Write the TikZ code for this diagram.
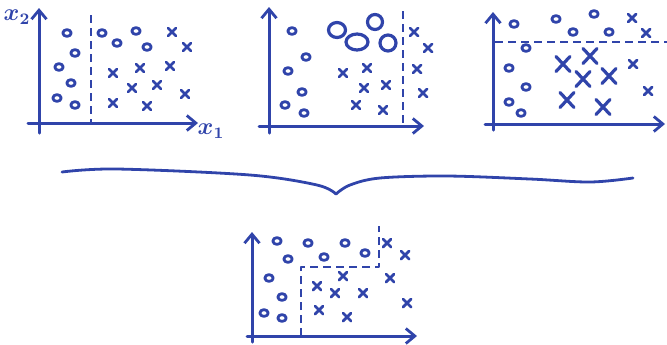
\documentclass[tikz,border=0pt]{standalone}
\usepackage{amsmath}
\usetikzlibrary{arrows.meta}
\definecolor{inkblue}{RGB}{48,68,170}
\begin{document}
\begin{tikzpicture}[x=0.5pt,y=-0.5pt,
  ink/.style={draw=inkblue,line width=1.4pt,line cap=round,line join=round},
  axis/.style={ink,line width=1.5pt,-{Straight Barb[length=4.5pt,width=7.5pt,line width=1.4pt]}},
  divider/.style={ink,line width=1.3pt,line cap=butt,dash pattern=on 4pt off 2.5pt},
  ringmark/.pic={\draw[ink] (0,0) ellipse (4.2 and 3.4);},
  crossmark/.pic={\draw[ink] (-4,-4) -- (4,4) (-4,4) -- (4,-4);},
  bigcross/.pic={\draw[ink,line width=1.6pt] (-7,-7.5) -- (7,7.5) (-7,7.5) -- (7,-7.5);},
  lbl/.style={text=inkblue,inner sep=0pt,font=\fontsize{12}{12}\selectfont}]
\useasboundingbox (0,0) rectangle (667,344);

% ---------- panel 1: vertical split on x1 ----------
\draw[axis] (39,133) -- (39,8);
\draw[axis] (28,123) -- (198,123);
\node[lbl] (lx2) at (17,17) {$\boldsymbol{x}_{\boldsymbol{2}}$};
\node[lbl] (lx1) at (211,131) {$\boldsymbol{x}_{\boldsymbol{1}}$};
\draw[divider] (91,15) -- (91,123);
\foreach \p in {(67,33),(75,53),(59,67),(71,83),(57,98),(75,105),
                (102,33),(117,43),(136,31),(147,47)}
  \pic at \p {ringmark};
\foreach \p in {(172,32),(187,47),(113,73),(140,68),(170,66),
                (132,88),(157,85),(113,103),(147,106),(185,94)}
  \pic at \p {crossmark};

% ---------- panel 2: split near the right edge, weighted circles ----------
\draw[axis] (269,133) -- (269,7);
\draw[axis] (259,126) -- (424,126);
\draw[divider] (403,11) -- (403,126);
\foreach \p in {(292,31),(306,57),(288,71),(302,92),(285,105),(304,113)}
  \pic at \p {ringmark};
\draw[ink,line width=1.6pt] (337,30) ellipse (8.5 and 7.5);
\draw[ink,line width=1.6pt] (375,22) ellipse (7.5 and 7.5);
\draw[ink,line width=1.6pt] (357,42) ellipse (11 and 8);
\draw[ink,line width=1.6pt] (388,43) ellipse (8 and 8);
\foreach \p in {(343,73),(367,68),(364,88),(386,85),(356,105),(383,110),
                (414,32),(428,48),(417,69),(423,93)}
  \pic at \p {crossmark};

% ---------- panel 3: horizontal split on x2, weighted crosses ----------
\draw[axis] (493,130) -- (493,12);
\draw[axis] (485,124) -- (665,124);
\draw[divider] (495,42) -- (667,42);
\foreach \p in {(514,24),(556,19),(594,14),(573,32),(609,32),
                (526,48),(509,68),(526,87),(509,102),(521,113)}
  \pic at \p {ringmark};
\foreach \p in {(632,18),(646,33),(633,64),(648,91)}
  \pic at \p {crossmark};
\foreach \p in {(563,64),(590,56),(583,79),(609,76),(567,100),(603,107)}
  \pic at \p {bigcross};

% ---------- brace joining the three panels ----------
\draw[ink,line width=1.4pt] plot[smooth,tension=0.55] coordinates
  {(62,172) (117,169) (250,175) (317,185) (336,194)};
\draw[ink,line width=1.4pt] plot[smooth,tension=0.55] coordinates
  {(336,194) (350,185) (380,178) (447,176) (530,179) (590,182) (633,178)};

% ---------- combined classifier ----------
\draw[axis] (252,342) -- (252,232);
\draw[axis] (247,336) -- (417,336);
\draw[divider] (301,336) -- (301,267) -- (379,267) -- (379,226);
\foreach \p in {(277,241),(308,243),(345,243),(288,259),(324,257),
                (365,253),(269,278),(282,297),(264,313),(282,318)}
  \pic at \p {ringmark};
\foreach \p in {(387,243),(405,255),(390,278),(343,276),(317,286),
                (335,293),(363,293),(407,303),(319,310),(347,317)}
  \pic at \p {crossmark};
\end{tikzpicture}
\end{document}
